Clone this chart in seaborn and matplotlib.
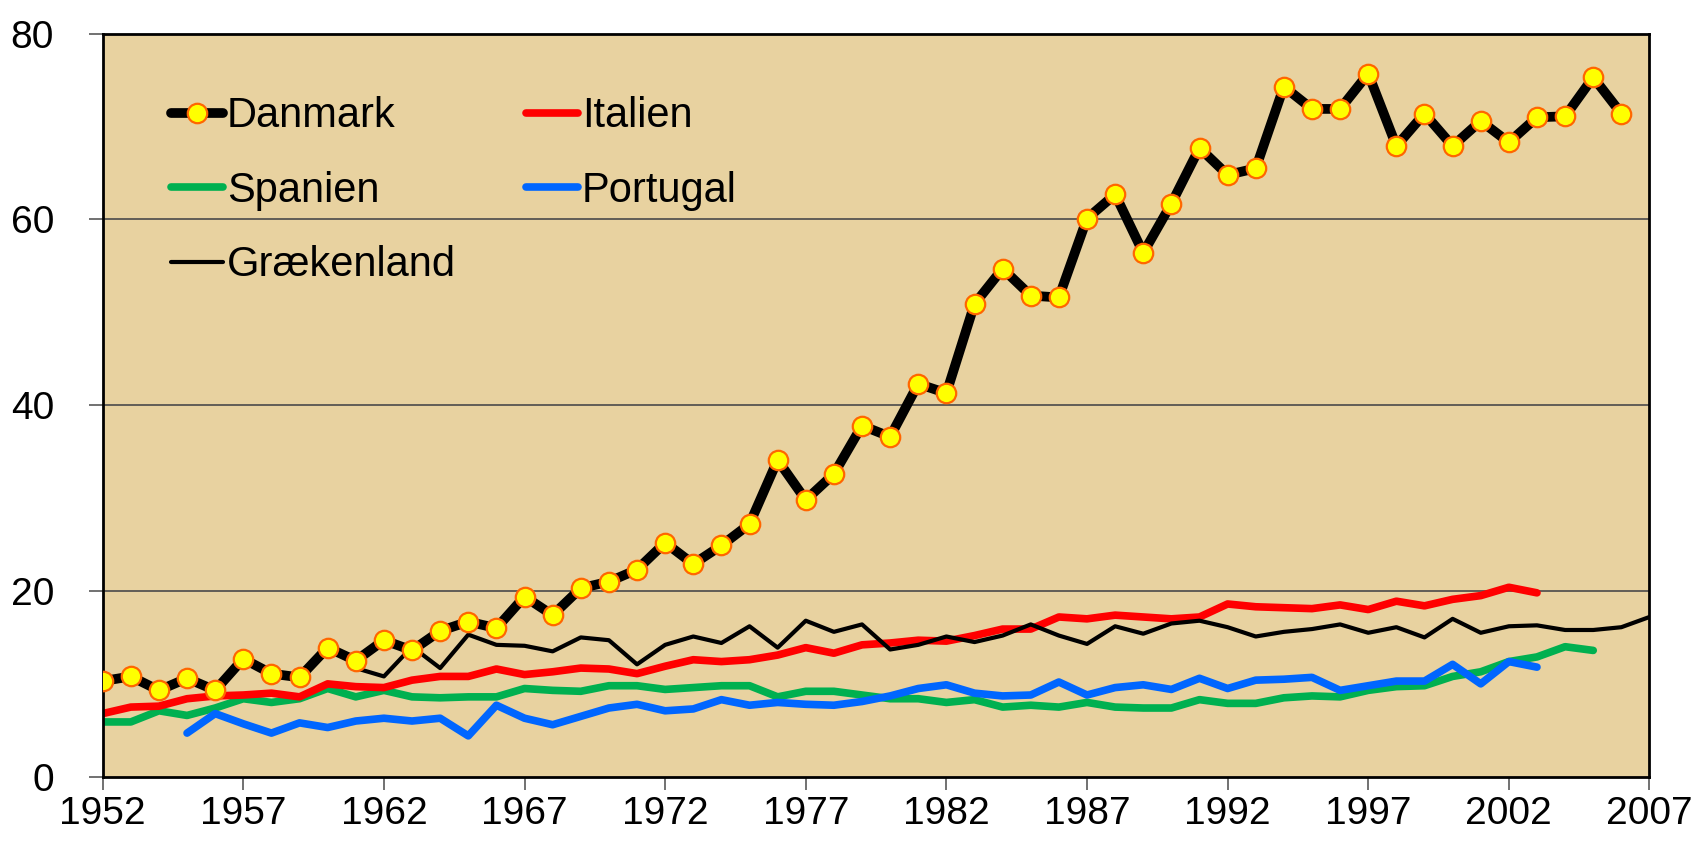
import numpy as np
import pandas as pd
import matplotlib
matplotlib.use("Agg")
import matplotlib.pyplot as plt
import seaborn as sns

# ---- data ----
danmark_years = list(range(1952, 2007))
danmark = [10.3, 10.8, 9.3, 10.6, 9.3, 12.7, 11.1, 10.7, 13.9, 12.5,
           14.7, 13.6, 15.7, 16.7, 16.0, 19.4, 17.4, 20.3, 21.0, 22.3,
           25.2, 22.9, 24.9, 27.2, 34.1, 29.8, 32.6, 37.8, 36.6, 42.3,
           41.3, 50.9, 54.7, 51.8, 51.6, 60.1, 62.7, 56.4, 61.7, 67.7,
           64.8, 65.5, 74.3, 71.9, 71.9, 75.7, 67.9, 71.4, 67.9, 70.6,
           68.3, 71.0, 71.1, 75.3, 71.4]

italien_years = list(range(1952, 2004))
italien = [6.8, 7.5, 7.6, 8.4, 8.7, 8.8, 9.0, 8.6, 10.0, 9.7,
           9.6, 10.4, 10.8, 10.8, 11.6, 11.0, 11.3, 11.7, 11.6, 11.1,
           11.9, 12.6, 12.4, 12.6, 13.1, 13.9, 13.3, 14.2, 14.4, 14.7,
           14.6, 15.2, 15.9, 15.9, 17.2, 17.0, 17.4, 17.2, 17.0, 17.2,
           18.6, 18.3, 18.2, 18.1, 18.5, 18.0, 18.9, 18.4, 19.1, 19.5,
           20.4, 19.8]

spanien_years = list(range(1952, 2006))
spanien = [5.9, 5.9, 7.1, 6.6, 7.4, 8.4, 8.0, 8.4, 9.5, 8.6,
           9.3, 8.6, 8.5, 8.6, 8.6, 9.5, 9.3, 9.2, 9.8, 9.8,
           9.4, 9.6, 9.8, 9.8, 8.6, 9.2, 9.2, 8.8, 8.4, 8.4,
           8.0, 8.3, 7.5, 7.7, 7.5, 8.0, 7.5, 7.4, 7.4, 8.3,
           7.9, 7.9, 8.5, 8.7, 8.6, 9.3, 9.7, 9.8, 10.8, 11.3,
           12.4, 12.9, 14.0, 13.6]

portugal_years = list(range(1955, 2004))
portugal = [4.7, 6.8, 5.7, 4.7, 5.8, 5.3, 6.0, 6.3, 6.0, 6.3,
            4.4, 7.7, 6.3, 5.6, 6.5, 7.4, 7.8, 7.1, 7.3, 8.3,
            7.7, 8.0, 7.8, 7.7, 8.1, 8.7, 9.5, 9.9, 9.0, 8.7,
            8.8, 10.2, 8.8, 9.6, 9.9, 9.4, 10.6, 9.5, 10.4, 10.5,
            10.7, 9.3, 9.8, 10.3, 10.3, 12.1, 10.0, 12.4, 11.8]

graekenland_years = list(range(1961, 2008))
graekenland = [11.7, 10.8, 14.0, 11.7, 15.3, 14.2, 14.1, 13.5, 15.0, 14.7,
               12.1, 14.2, 15.1, 14.4, 16.2, 13.9, 16.8, 15.6, 16.4, 13.7,
               14.2, 15.1, 14.5, 15.2, 16.4, 15.2, 14.3, 16.2, 15.4, 16.5,
               16.8, 16.1, 15.1, 15.6, 15.9, 16.4, 15.5, 16.1, 15.0, 17.0,
               15.5, 16.2, 16.3, 15.8, 15.8, 16.1, 17.2]

xticks = list(range(1952, 2008, 5))
yticks = [0, 20, 40, 60, 80]

# ---- plot ----
sns.set_theme(style="white")
plt.rcParams["font.family"] = ["Liberation Sans", "DejaVu Sans"]
plt.rcParams["text.color"] = "black"
plt.rcParams["xtick.color"] = "black"
plt.rcParams["ytick.color"] = "black"

fig = plt.figure(figsize=(16.97, 8.42), dpi=100)
ax = fig.add_axes([0.0605, 0.0775, 0.9115, 0.8825])
ax.set_facecolor("#E8D2A0")

def df(years, vals):
    return pd.DataFrame({"x": years, "y": vals})

sns.lineplot(data=df(graekenland_years, graekenland), x="x", y="y", ax=ax,
             color="black", linewidth=3.0, label="Grækenland", zorder=3)
sns.lineplot(data=df(portugal_years, portugal), x="x", y="y", ax=ax,
             color="#0066FF", linewidth=5.5, label="Portugal", zorder=3,
             solid_capstyle="round")
sns.lineplot(data=df(spanien_years, spanien), x="x", y="y", ax=ax,
             color="#00B050", linewidth=5.5, label="Spanien", zorder=2,
             solid_capstyle="round")
sns.lineplot(data=df(italien_years, italien), x="x", y="y", ax=ax,
             color="#FF0000", linewidth=5.5, label="Italien", zorder=2,
             solid_capstyle="round")
sns.lineplot(data=df(danmark_years, danmark), x="x", y="y", ax=ax,
             color="black", linewidth=7.0, label="Danmark", zorder=4,
             marker="o", markersize=14, markerfacecolor="#FFFF00",
             markeredgecolor="#FF6600", markeredgewidth=1.6)

ax.set_xlim(1952, 2007)
ax.set_ylim(0, 80)
ax.set_xticks(xticks)
ax.set_yticks(yticks)
ax.set_xticklabels([str(t) for t in xticks], fontsize=28, color="black")
ax.set_yticklabels([str(t) for t in yticks], fontsize=28, color="black")
ax.set_xlabel("")
ax.set_ylabel("")
for y in [20, 40, 60]:
    ax.axhline(y, color="#4a4a4a", linewidth=1.2, zorder=1)
for s in ax.spines.values():
    s.set_visible(True)
    s.set_color("black")
    s.set_linewidth(2.0)
ax.tick_params(axis="both", direction="out", color="#666666",
               bottom=True, left=True)
ax.tick_params(axis="y", length=10, width=1.3, pad=25)
ax.tick_params(axis="x", length=9, width=1.3, pad=5)

handles, labels = ax.get_legend_handles_labels()
order = ["Danmark", "Spanien", "Grækenland", "Italien", "Portugal"]
hmap = dict(zip(labels, handles))
leg = ax.legend([hmap[k] for k in order], order, ncol=2, frameon=False,
                fontsize=30, loc="upper left", bbox_to_anchor=(0.044, 0.916),
                borderaxespad=0, borderpad=0,
                handlelength=1.25, handletextpad=0.1, columnspacing=1.67,
                labelspacing=0.83)
for t in leg.get_texts():
    t.set_color("black")

fig.savefig("out.png", dpi=100)
